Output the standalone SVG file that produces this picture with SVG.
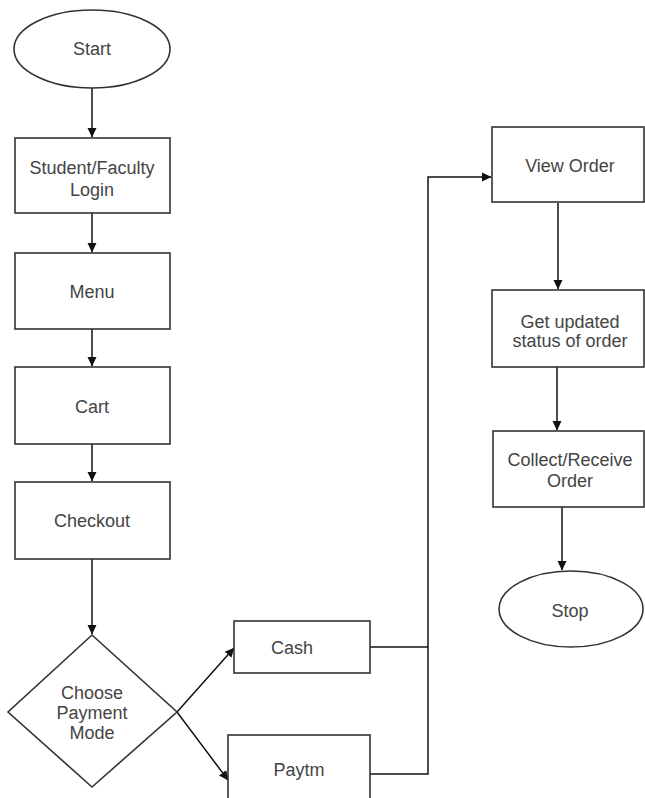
<svg xmlns="http://www.w3.org/2000/svg" width="645" height="798" viewBox="0 0 645 798">
<defs>
<marker id="ah" markerWidth="10" markerHeight="10" refX="9" refY="5" orient="auto" markerUnits="userSpaceOnUse">
<path d="M0,0.5 L9.5,5 L0,9.5 Z" fill="#111"/>
</marker>
<style>
.shape{fill:#fff;stroke:#333;stroke-width:1.6}
.t{font-family:"Liberation Sans",Arial,sans-serif;font-size:18px;fill:#444;text-anchor:middle}
.c{fill:none;stroke:#111;stroke-width:1.5}
.a{marker-end:url(#ah)}
</style>
</defs>
<rect width="645" height="798" fill="#fff"/>
<g id="connectors">
<line class="c a" x1="92" y1="88" x2="92" y2="137"/>
<line class="c a" x1="92" y1="213" x2="92" y2="252"/>
<line class="c a" x1="92" y1="329" x2="92" y2="366"/>
<line class="c a" x1="92" y1="444" x2="92" y2="481"/>
<line class="c a" x1="92" y1="559" x2="92" y2="634"/>
<line class="c a" x1="177" y1="712" x2="234" y2="648"/>
<line class="c a" x1="177" y1="712" x2="228" y2="780"/>
<polyline class="c" points="370,647 428,647"/>
<polyline class="c a" points="370,774 428,774 428,177 491,177"/>
<line class="c a" x1="558" y1="203" x2="558" y2="289"/>
<line class="c a" x1="557" y1="367" x2="557" y2="430"/>
<line class="c a" x1="562" y1="507" x2="562" y2="570"/>
</g>
<g id="start">
<ellipse class="shape" cx="92" cy="49" rx="78" ry="39"/>
<text class="t" x="92" y="55">Start</text>
</g>
<g id="login">
<rect class="shape" x="15" y="138" width="155" height="75"/>
<text class="t" x="92" y="174">Student/Faculty</text>
<text class="t" x="92" y="196">Login</text>
</g>
<g id="menu">
<rect class="shape" x="15" y="253" width="155" height="76"/>
<text class="t" x="92" y="298">Menu</text>
</g>
<g id="cart">
<rect class="shape" x="15" y="367" width="155" height="77"/>
<text class="t" x="92" y="413">Cart</text>
</g>
<g id="checkout">
<rect class="shape" x="15" y="482" width="155" height="77"/>
<text class="t" x="92" y="527">Checkout</text>
</g>
<g id="choose">
<polygon class="shape" points="92,635 177,712 92,787 8,712"/>
<text class="t" x="92" y="699">Choose</text>
<text class="t" x="92" y="719">Payment</text>
<text class="t" x="92" y="739">Mode</text>
</g>
<g id="cash">
<rect class="shape" x="234" y="621" width="136" height="52"/>
<text class="t" x="292" y="654">Cash</text>
</g>
<g id="paytm">
<rect class="shape" x="228" y="735" width="142" height="70"/>
<text class="t" x="299" y="776">Paytm</text>
</g>
<g id="view-order">
<rect class="shape" x="492" y="127" width="152" height="75"/>
<text class="t" x="570" y="172">View Order</text>
</g>
<g id="get-status">
<rect class="shape" x="492" y="290" width="152" height="77"/>
<text class="t" x="570" y="328">Get updated</text>
<text class="t" x="570" y="347">status of order</text>
</g>
<g id="collect">
<rect class="shape" x="493" y="431" width="151" height="76"/>
<text class="t" x="570" y="466">Collect/Receive</text>
<text class="t" x="570" y="487">Order</text>
</g>
<g id="stop">
<ellipse class="shape" cx="571" cy="609" rx="72" ry="38"/>
<text class="t" x="570" y="617">Stop</text>
</g>
</svg>
